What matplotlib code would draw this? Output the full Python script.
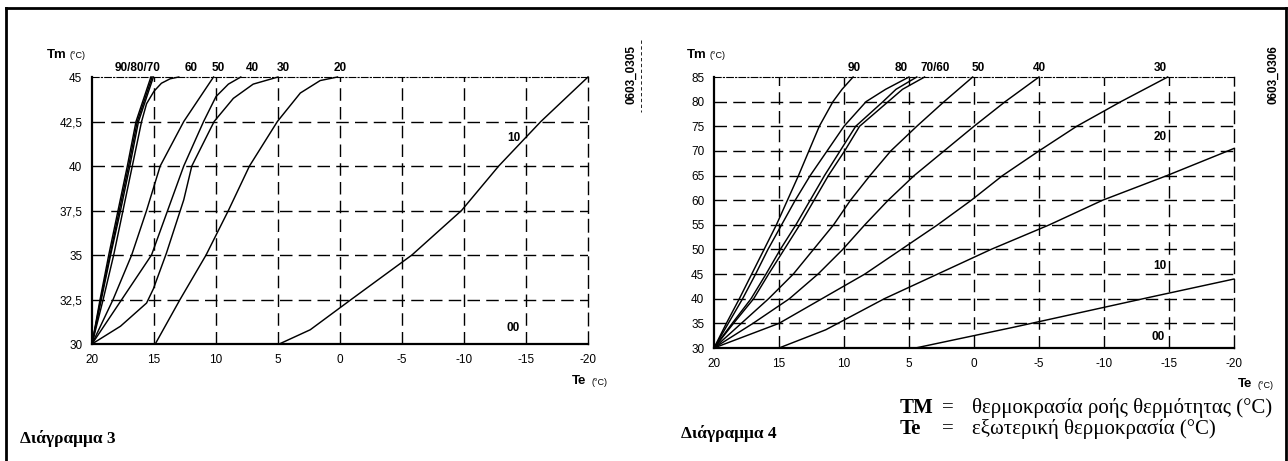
import matplotlib
matplotlib.use("Agg")
import matplotlib.pyplot as plt
from matplotlib.lines import Line2D

plt.rcParams["axes.unicode_minus"] = False

W, H = 1288, 461
SANS = ["Liberation Sans", "DejaVu Sans"]
SERIF = ["Liberation Serif", "DejaVu Serif"]

# ---------------- Diagram 3 (low temperature range) ----------------
d3_xticks = [20, 15, 10, 5, 0, -5, -10, -15, -20]
d3_yticks = [30, 32.5, 35, 37.5, 40, 42.5, 45]
d3_ytick_labels = ["30", "32,5", "35", "37,5", "40", "42,5", "45"]

d3_k90_te = [20, 19.35, 18.65, 17.9, 17.15, 16.45, 15.25]
d3_k90_tm = [30, 32.5, 35, 37.5, 40, 42.5, 45]
d3_k80_te = [20, 19.3, 18.55, 17.8, 17.05, 16.35, 15.15]
d3_k80_tm = [30, 32.5, 35, 37.5, 40, 42.5, 45]
d3_k70_te = [20, 19.25, 18.5, 17.7, 16.95, 16.25, 15.05]
d3_k70_tm = [30, 32.5, 35, 37.5, 40, 42.5, 45]
d3_k60_te = [20, 19.1, 18.25, 17.5, 16.75, 16.0, 15.6, 15.0, 14.4, 13.7, 13.0]
d3_k60_tm = [30, 32.5, 35, 37.5, 40, 42.5, 43.5, 44.2, 44.65, 44.9, 45]
d3_k50_te = [20, 18.3, 16.8, 15.6, 14.5, 12.6, 10.2]
d3_k50_tm = [30, 32.5, 35, 37.5, 40, 42.5, 45]
d3_k40_te = [20, 17.6, 15.2, 13.9, 12.6, 11.0, 10.0, 9.0, 8.0]
d3_k40_tm = [30, 32.5, 35, 37.5, 40, 42.5, 43.9, 44.6, 45]
d3_k30_te = [20, 17.7, 15.6, 15.05, 14.0, 12.6, 11.95, 10.15, 8.6, 7.0, 5.0]
d3_k30_tm = [30, 31.0, 32.3, 33.1, 35.1, 38.1, 40, 42.5, 43.8, 44.6, 45]
d3_k20_te = [14.9, 12.9, 10.8, 9.0, 7.3, 5.05, 3.2, 1.6, 0.2]
d3_k20_tm = [30, 32.5, 35, 37.5, 40, 42.5, 44.1, 44.8, 45]
d3_k10_te = [4.9, 2.4, -0.9, -5.8, -9.8, -12.8, -16.2, -20]
d3_k10_tm = [30, 30.8, 32.5, 35, 37.5, 40, 42.5, 45]

d3_curves = [
    (d3_k90_te, d3_k90_tm), (d3_k80_te, d3_k80_tm), (d3_k70_te, d3_k70_tm),
    (d3_k60_te, d3_k60_tm), (d3_k50_te, d3_k50_tm), (d3_k40_te, d3_k40_tm),
    (d3_k30_te, d3_k30_tm), (d3_k20_te, d3_k20_tm), (d3_k10_te, d3_k10_tm),
]
d3_top_labels = ["90/80/70", "60", "50", "40", "30", "20"]
d3_top_label_te = [16.3, 12.0, 9.8, 7.1, 4.6, 0.0]
d3_inner_labels = ["10", "00"]
d3_inner_label_pos = [(-14.0, 41.6), (-14.0, 30.9)]

# ---------------- Diagram 4 (high temperature range) ----------------
d4_xticks = [20, 15, 10, 5, 0, -5, -10, -15, -20]
d4_yticks = [30, 35, 40, 45, 50, 55, 60, 65, 70, 75, 80, 85]
d4_tm = [30, 35, 40, 45, 50, 55, 60, 65, 70, 75, 80, 82.5, 85]
d4_tm_short = [30, 35, 40, 45, 50, 55, 60, 65, 70, 75, 80, 85]

d4_k90_te = [20, 19.05, 18.05, 17.1, 16.15, 15.2, 14.35, 13.5, 12.7, 11.9, 10.85, 10.15, 9.3]
d4_k80_te = [20, 18.9, 17.8, 16.8, 15.85, 14.8, 13.75, 12.6, 11.3, 10.0, 8.3, 6.8, 5.0]
d4_k70_te = [20, 18.6, 17.15, 16.0, 14.9, 13.7, 12.6, 11.5, 10.3, 9.1, 7.0, 6.0, 4.4]
d4_k60_te = [20, 18.5, 16.95, 15.8, 14.6, 13.4, 12.3, 11.2, 9.95, 8.8, 6.6, 5.5, 3.8]
d4_k50_te = [20, 17.9, 15.8, 13.9, 12.35, 10.8, 9.5, 8.0, 6.4, 4.4, 2.3, 0.1]
d4_k40_te = [20, 17.0, 14.2, 12.0, 10.1, 8.4, 6.6, 4.6, 2.3, 0.0, -2.4, -5.0]
d4_k30_te = [20, 15.0, 11.7, 8.4, 5.6, 2.8, 0.2, -2.2, -5.0, -7.9, -11.3, -14.9]
d4_k20_te = [15.0, 11.4, 6.9, 2.8, -1.3, -5.8, -9.9, -14.85, -20]
d4_k20_tm = [30, 33.7, 40, 45, 50, 55, 60, 65, 70.5]
d4_k10_te = [4.5, -3.2, -13.7, -20]
d4_k10_tm = [30, 34.3, 40.4, 44]

d4_curves = [
    (d4_k90_te, d4_tm), (d4_k80_te, d4_tm), (d4_k70_te, d4_tm),
    (d4_k60_te, d4_tm), (d4_k50_te, d4_tm_short), (d4_k40_te, d4_tm_short),
    (d4_k30_te, d4_tm_short), (d4_k20_te, d4_k20_tm), (d4_k10_te, d4_k10_tm),
]
d4_top_labels = ["90", "80", "70/60", "50", "40", "30"]
d4_top_label_te = [9.2, 5.6, 3.0, -0.3, -5.0, -14.3]
d4_inner_labels = ["20", "10", "00"]
d4_inner_label_pos = [(-14.3, 72.8), (-14.3, 46.6), (-14.2, 32.3)]


def px_box(x0, y0, x1, y1):
    """Pixel box (top-left origin) -> figure-fraction rect."""
    return [x0 / W, 1 - y1 / H, (x1 - x0) / W, (y1 - y0) / H]


def fig_text(fig, x, y, s, **kw):
    fig.text(x / W, 1 - y / H, s, **kw)


def heating_panel(ax, curves, xticks, yticks, ytick_labels, ylim):
    ax.set_xlim(20, -20)
    ax.set_ylim(*ylim)
    for te, tm in curves:
        ax.plot(te, tm, color="black", lw=1.05, solid_joinstyle="round",
                clip_on=False, zorder=3)
    grid_kw = dict(color="black", lw=1.0, dashes=(9, 4.5), zorder=1)
    for x in xticks[1:-1]:
        ax.axvline(x, **grid_kw)
    for y in yticks[1:-1]:
        ax.axhline(y, **grid_kw)
    ax.set_xticks(xticks)
    ax.set_yticks(yticks)
    ax.set_yticklabels(ytick_labels)
    ax.tick_params(length=0, labelsize=8.5, pad=7)
    for lab in ax.get_xticklabels() + ax.get_yticklabels():
        lab.set_fontfamily(SANS)
    ax.spines["left"].set_linewidth(1.6)
    ax.spines["bottom"].set_linewidth(1.6)
    ax.spines["top"].set_linewidth(0.8)
    ax.spines["top"].set_linestyle((0, (6, 2, 1, 2)))
    ax.spines["right"].set_linewidth(1.0)
    ax.spines["right"].set_linestyle((0, (9, 4.5)))
    ax.set_facecolor("none")


def top_labels(ax, labels, positions, ytop):
    for lab, te in zip(labels, positions):
        ax.annotate(lab, (te, ytop), xytext=(0, 2.5), textcoords="offset points",
                    ha="center", va="bottom", fontsize=8.5,
                    fontweight="bold", family=SANS)


fig = plt.figure(figsize=(W / 100, H / 100), dpi=100)

ax3 = fig.add_axes(px_box(92, 77, 588, 344))
heating_panel(ax3, d3_curves, d3_xticks, d3_yticks, d3_ytick_labels, (30, 45))
top_labels(ax3, d3_top_labels, d3_top_label_te, 45)
for lab, (te, tm) in zip(d3_inner_labels, d3_inner_label_pos):
    ax3.text(te, tm, lab, ha="center", va="center", fontsize=8.5,
             fontweight="bold", family=SANS)

ax4 = fig.add_axes(px_box(714, 77, 1234, 348))
heating_panel(ax4, d4_curves, d4_xticks, d4_yticks,
              [str(v) for v in d4_yticks], (30, 85))
top_labels(ax4, d4_top_labels, d4_top_label_te, 85)
for lab, (te, tm) in zip(d4_inner_labels, d4_inner_label_pos):
    ax4.text(te, tm, lab, ha="center", va="center", fontsize=8.5,
             fontweight="bold", family=SANS)

# axis titles
for x0 in (47, 687):
    fig_text(fig, x0, 55, "Tm", fontsize=9.5, fontweight="bold",
             family=SANS, va="center")
    fig_text(fig, x0 + 22, 56, "(°C)", fontsize=6.5, family=SANS, va="center")
fig_text(fig, 572, 381, "Te", fontsize=9.5, fontweight="bold",
         family=SANS, va="center")
fig_text(fig, 592, 382, "(°C)", fontsize=6.5, family=SANS, va="center")
fig_text(fig, 1238, 384, "Te", fontsize=9.5, fontweight="bold",
         family=SANS, va="center")
fig_text(fig, 1258, 385, "(°C)", fontsize=6.5, family=SANS, va="center")

# drawing codes
fig_text(fig, 631, 75, "0603_0305", rotation=90, fontsize=8.5,
         fontweight="bold", family=SANS, ha="center", va="center")
fig_text(fig, 1273, 75, "0603_0306", rotation=90, fontsize=8.5,
         fontweight="bold", family=SANS, ha="center", va="center")

# captions
fig_text(fig, 20, 438, "Διάγραμμα 3", fontsize=12.5, fontweight="bold",
         family=SERIF, va="center")
fig_text(fig, 681, 433, "Διάγραμμα 4", fontsize=12.5, fontweight="bold",
         family=SERIF, va="center")
LEG = 15
fig_text(fig, 900, 408, "TM", fontsize=LEG, fontweight="bold",
         family=SERIF, va="center")
fig_text(fig, 942, 408, "=", fontsize=LEG, family=SERIF, va="center")
fig_text(fig, 972, 408, "θερμοκρασία ροής θερμότητας (°C)", fontsize=LEG,
         family=SERIF, va="center")
fig_text(fig, 900, 429, "Te", fontsize=LEG, fontweight="bold",
         family=SERIF, va="center")
fig_text(fig, 942, 429, "=", fontsize=LEG, family=SERIF, va="center")
fig_text(fig, 972, 429, "εξωτερική θερμοκρασία (°C)", fontsize=LEG,
         family=SERIF, va="center")

# page frame (open at the bottom)
frame_kw = dict(color="black", lw=2.0, transform=fig.transFigure)
fig.add_artist(Line2D([6 / W, 1286 / W], [1 - 8 / H, 1 - 8 / H], **frame_kw))
fig.add_artist(Line2D([6 / W, 6 / W], [1 - 8 / H, 0], **frame_kw))
fig.add_artist(Line2D([1286 / W, 1286 / W], [1 - 8 / H, 0], **frame_kw))
fig.add_artist(Line2D([641 / W, 641 / W], [1 - 40 / H, 1 - 112 / H],
                      color="black", lw=0.6, dashes=(4, 3),
                      transform=fig.transFigure))

fig.savefig("out.png", dpi=100)
